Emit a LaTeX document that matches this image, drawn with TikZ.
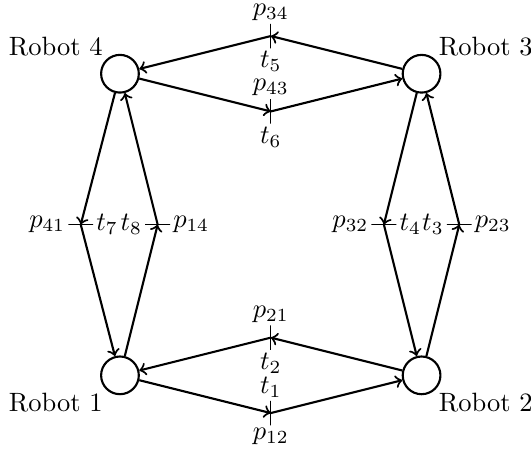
\documentclass[tikz,border=0pt]{standalone}
\begin{document}
\begin{tikzpicture}[
  place/.style={circle,draw,thick,minimum size=5mm,inner sep=0pt},
  vbar/.style={rectangle,draw,line width=0.5pt,minimum width=0pt,minimum height=3.25mm,inner sep=0pt,outer sep=0pt,
    every label/.style={inner sep=0.4pt}},
  hbar/.style={rectangle,draw,line width=0.5pt,minimum width=3.3mm,minimum height=0pt,inner sep=0pt,outer sep=0pt,
    every label/.style={inner sep=0.8pt}},
  arc/.style={thick,->},
  every label/.style={inner sep=1pt}
]
\useasboundingbox (-1.591,-0.990) rectangle (5.451,4.978);
\node[place,label=below left:Robot 1] (r1) at (0,0) {};
\node[place,label=below right:Robot 2] (r2) at (4,0) {};
\node[place,label=above right:Robot 3] (r3) at (4,4) {};
\node[place,label=above left:Robot 4] (r4) at (0,4) {};

\node[vbar,label=above:$t_1$,label=below:$p_{12}$] (t1) at (2,-0.5) {};
\node[vbar,label=above:$p_{21}$,label=below:$t_2$] (t2) at (2,0.5) {};
\node[hbar,label=left:$t_3$,label=right:$p_{23}$] (t3) at (4.5,2) {};
\node[hbar,label=left:$p_{32}$,label=right:$t_4$] (t4) at (3.5,2) {};
\node[vbar,label=above:$p_{34}$,label=below:$t_5$] (t5) at (2,4.5) {};
\node[vbar,label=above:$p_{43}$,label=below:$t_6$] (t6) at (2,3.5) {};
\node[hbar,label=left:$p_{41}$,label=right:$t_7$] (t7) at (-0.52,2) {};
\node[hbar,label=left:$t_8$,label=right:$p_{14}$] (t8) at (0.5,2) {};

\draw[arc] (r1) -- (t1.center);
\draw[arc] (t1.center) -- (r2);
\draw[arc] (r2) -- (t2.center);
\draw[arc] (t2.center) -- (r1);
\draw[arc] (r2) -- (t3.center);
\draw[arc] (t3.center) -- (r3);
\draw[arc] (r3) -- (t4.center);
\draw[arc] (t4.center) -- (r2);
\draw[arc] (r3) -- (t5.center);
\draw[arc] (t5.center) -- (r4);
\draw[arc] (r4) -- (t6.center);
\draw[arc] (t6.center) -- (r3);
\draw[arc] (r4) -- (t7.center);
\draw[arc] (t7.center) -- (r1);
\draw[arc] (r1) -- (t8.center);
\draw[arc] (t8.center) -- (r4);
\end{tikzpicture}
\end{document}
